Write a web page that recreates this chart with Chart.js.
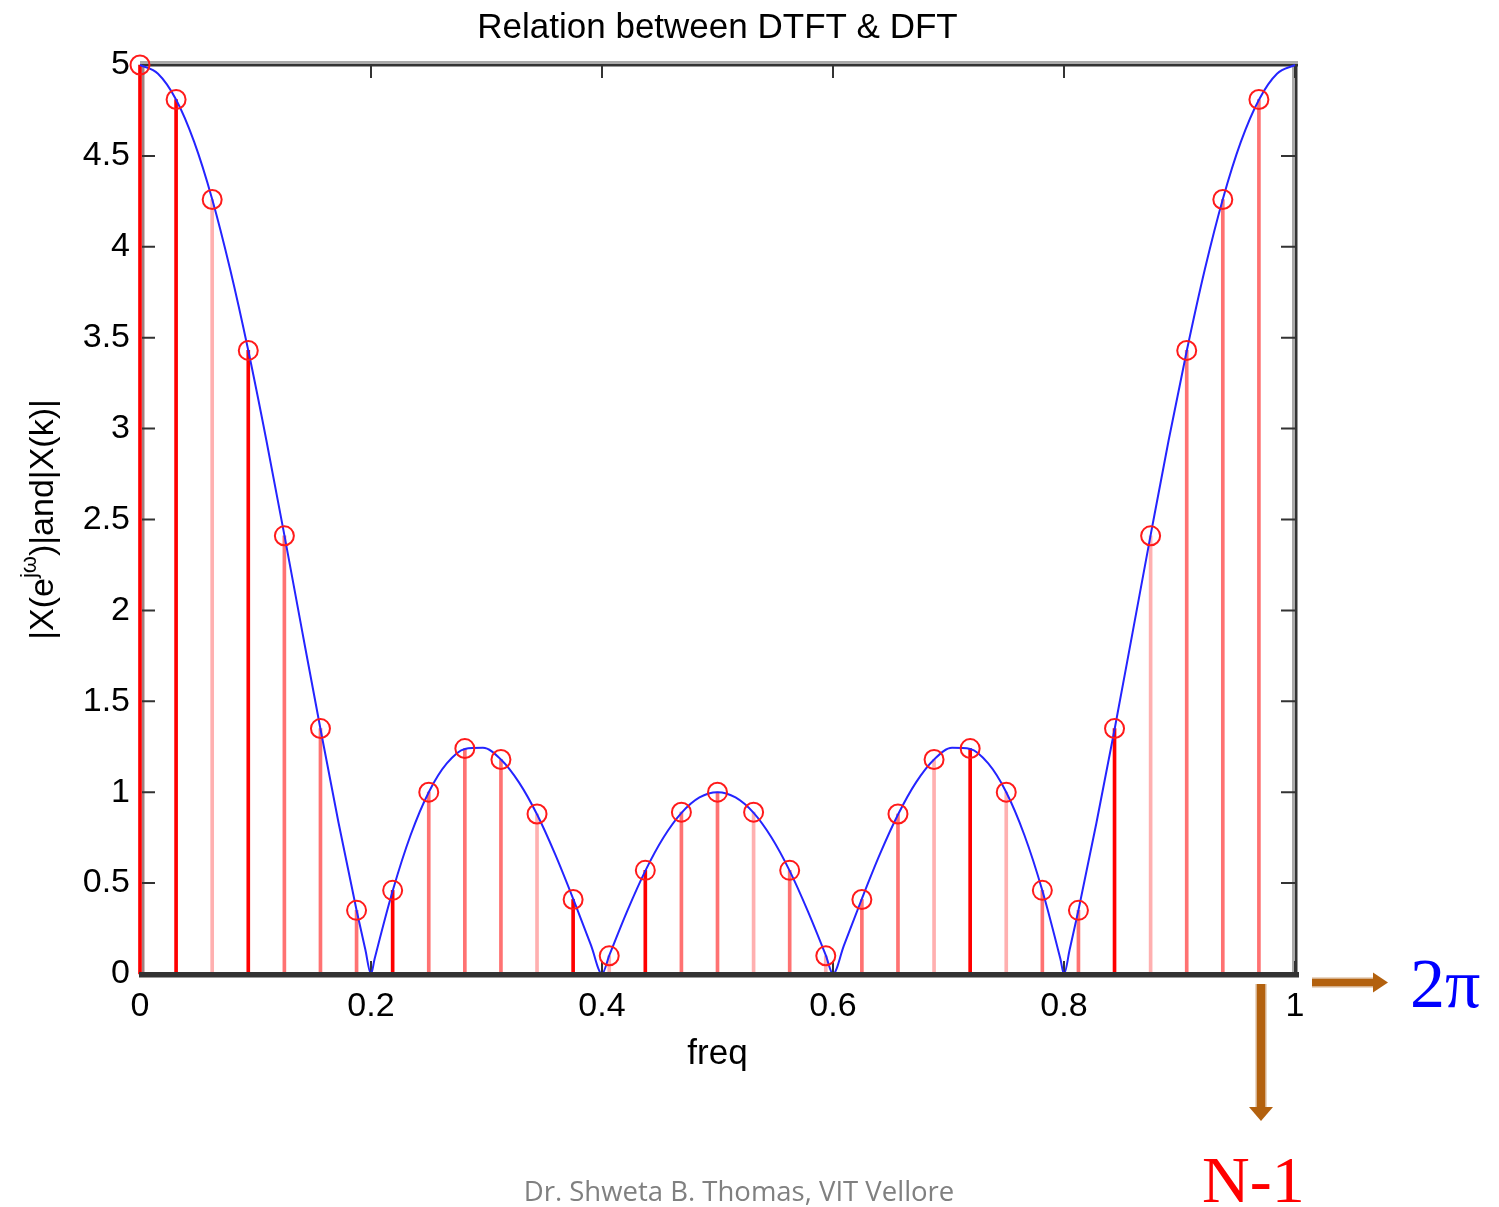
<!DOCTYPE html>
<html>
<head>
<meta charset="utf-8">
<title>Relation between DTFT & DFT</title>
<script src="https://cdn.jsdelivr.net/npm/chart.js@4.4.1/dist/chart.umd.min.js"></script>
<style>
  html, body { margin: 0; padding: 0; background: #fff; }
  #wrap { width: 1499px; height: 1207px; }
</style>
</head>
<body>
<div id="wrap"><canvas id="myChart" width="1499" height="1207"></canvas></div>
<script>
// DFT samples |X(k)|, k = 0..31
const dftFreq = [0, 0.03125, 0.0625, 0.09375, 0.125, 0.15625, 0.1875, 0.21875,
                 0.25, 0.28125, 0.3125, 0.34375, 0.375, 0.40625, 0.4375, 0.46875,
                 0.5, 0.53125, 0.5625, 0.59375, 0.625, 0.65625, 0.6875, 0.71875,
                 0.75, 0.78125, 0.8125, 0.84375, 0.875, 0.90625, 0.9375, 0.96875];
const dftMag = [5, 4.81, 4.26, 3.43, 2.41, 1.35, 0.35, 0.46,
                1.0, 1.24, 1.18, 0.88, 0.41, 0.10, 0.57, 0.89,
                1.0, 0.89, 0.57, 0.10, 0.41, 0.88, 1.18, 1.24,
                1.0, 0.46, 0.35, 1.35, 2.41, 3.43, 4.26, 4.81];

// DTFT magnitude |X(e^jw)| (blue curve)
const curveFreq = [0, 0.0156, 0.0313, 0.0469, 0.0625, 0.0781, 0.0938, 0.1094, 0.125, 0.1406,
                   0.1563, 0.1719, 0.1875, 0.195, 0.2, 0.2031, 0.2188, 0.2344, 0.25, 0.2656,
                   0.2813, 0.2969, 0.3125, 0.3281, 0.3438, 0.3594, 0.375, 0.3906, 0.4, 0.4063,
                   0.4219, 0.4375, 0.4531, 0.4688, 0.4844, 0.5,
                   0.5156, 0.5313, 0.5469, 0.5625, 0.5781, 0.5938, 0.6, 0.6094, 0.625, 0.6406,
                   0.6563, 0.6719, 0.6875, 0.7031, 0.7188, 0.7344, 0.75, 0.7656, 0.7813, 0.7969,
                   0.8, 0.805, 0.8125, 0.8281, 0.8438, 0.8594, 0.875, 0.8906, 0.9063, 0.9219,
                   0.9375, 0.9531, 0.9688, 0.9844, 1];
const curveMag = [5, 4.952, 4.809, 4.577, 4.262, 3.875, 3.428, 2.936, 2.414, 1.879,
                  1.346, 0.832, 0.351, 0.137, 0, 0.082, 0.458, 0.766, 1.0, 1.158,
                  1.238, 1.244, 1.180, 1.054, 0.877, 0.659, 0.414, 0.156, 0, 0.102,
                  0.347, 0.567, 0.749, 0.886, 0.971, 1.0,
                  0.971, 0.886, 0.749, 0.567, 0.347, 0.102, 0, 0.156, 0.414, 0.659,
                  0.877, 1.054, 1.180, 1.244, 1.238, 1.158, 1.0, 0.766, 0.458, 0.082,
                  0, 0.137, 0.351, 0.832, 1.346, 1.879, 2.414, 2.936, 3.428, 3.875,
                  4.262, 4.577, 4.809, 4.952, 5];

const xTicks = [0, 0.2, 0.4, 0.6, 0.8, 1];
const yTicks = [0, 0.5, 1, 1.5, 2, 2.5, 3, 3.5, 4, 4.5, 5];

// stem shading as it shows in the scanned figure (R = red, M = mid, L = light)
const stemShade = "RRLRMMMRMMMLRLRMMLMLMMLRLMMRLMMM";
const shadeColor = { R: "#ff0000", M: "#ff7272", L: "#ffb0b0" };

const SANS = "'Liberation Sans', Arial, sans-serif";
const SERIF = "'Liberation Serif', 'Times New Roman', serif";

function tickText(v) {
  return String(Math.round(v * 100) / 100);
}

function arrow(ctx, x1, y1, x2, y2, shaft, headLen, headHalf) {
  const ang = Math.atan2(y2 - y1, x2 - x1);
  const len = Math.hypot(x2 - x1, y2 - y1);
  ctx.save();
  ctx.translate(x1, y1);
  ctx.rotate(ang);
  ctx.fillStyle = "#d6b08a";
  ctx.fillRect(0, -shaft / 2 - 1.5, len - headLen + 2, shaft + 3);
  ctx.fillStyle = "#b3610e";
  ctx.fillRect(0, -shaft / 2, len - headLen + 2, shaft);
  ctx.beginPath();
  ctx.moveTo(len, 0);
  ctx.lineTo(len - headLen, -headHalf);
  ctx.lineTo(len - headLen, headHalf);
  ctx.closePath();
  ctx.fill();
  ctx.restore();
}

const matlabFrame = {
  id: "matlabFrame",
  beforeDatasetsDraw(chart) {
    const { ctx, chartArea: a, scales } = chart;
    ctx.save();
    // box
    ctx.fillStyle = "#aaaaaa";
    ctx.fillRect(a.left, a.top - 4, a.right - a.left + 3, 3);
    ctx.fillRect(a.right - 3, a.top, 3, a.bottom - a.top);
    ctx.fillStyle = "#333333";
    ctx.fillRect(a.left, a.top - 1, a.right - a.left + 3, 2.5);
    ctx.fillRect(a.right, a.top - 1, 2.5, a.bottom - a.top + 1);
    ctx.fillStyle = "#a08080";
    ctx.fillRect(a.left + 2, a.top, 2.5, a.bottom - a.top);
    // inward ticks
    ctx.strokeStyle = "#333333";
    ctx.lineWidth = 2;
    ctx.beginPath();
    yTicks.forEach(v => {
      const y = scales.y.getPixelForValue(v);
      ctx.moveTo(a.left + 2, y); ctx.lineTo(a.left + 15, y);
      ctx.moveTo(a.right, y); ctx.lineTo(a.right - 14, y);
    });
    xTicks.forEach(v => {
      const x = scales.x.getPixelForValue(v);
      ctx.moveTo(x, a.top); ctx.lineTo(x, a.top + 13);
      ctx.moveTo(x, a.bottom); ctx.lineTo(x, a.bottom - 13);
    });
    ctx.stroke();
    ctx.restore();
  },
  afterDatasetsDraw(chart) {
    const { ctx, chartArea: a } = chart;
    ctx.save();
    ctx.fillStyle = "#333333";
    ctx.fillRect(a.left - 1, a.bottom - 2, a.right - a.left + 5, 5.5);
    ctx.restore();
  },
  afterDraw(chart) {
    const { ctx, chartArea: a } = chart;
    const cx = (a.left + a.right) / 2;
    const cy = (a.top + a.bottom) / 2;
    ctx.save();
    ctx.fillStyle = "#000";
    ctx.textBaseline = "alphabetic";

    // title
    ctx.font = "35px " + SANS;
    ctx.textAlign = "center";
    ctx.fillText("Relation between DTFT & DFT", cx, 38);

    // x label
    ctx.fillText("freq", cx, 1064);

    // y label with superscript
    ctx.save();
    ctx.translate(53, cy);
    ctx.rotate(-Math.PI / 2);
    ctx.textAlign = "left";
    const partA = "|X(e", partSup = "j\u03c9", partB = ")|and|X(k)|";
    ctx.font = "34px " + SANS;
    const wA = ctx.measureText(partA).width;
    const wB = ctx.measureText(partB).width;
    ctx.font = "22px " + SANS;
    const wS = ctx.measureText(partSup).width;
    let x = -(wA + wS + wB) / 2;
    ctx.font = "34px " + SANS;
    ctx.fillText(partA, x, 0);
    x += wA;
    ctx.font = "22px " + SANS;
    ctx.fillText(partSup, x, -17);
    x += wS;
    ctx.font = "34px " + SANS;
    ctx.fillText(partB, x, 0);
    ctx.restore();

    // annotations
    arrow(ctx, 1312, 982.5, 1388, 982.5, 7, 15, 10);
    arrow(ctx, 1261, 984, 1261, 1121, 8, 14, 12);

    ctx.textAlign = "left";
    ctx.fillStyle = "#0000ff";
    ctx.font = "70px " + SERIF;
    ctx.fillText("2\u03c0", 1410, 1007);

    ctx.fillStyle = "#ff0000";
    ctx.font = "66px " + SERIF;
    ctx.fillText("N-1", 1202, 1202);

    ctx.fillStyle = "#808080";
    ctx.textAlign = "center";
    ctx.font = "27.5px 'Open Sans', sans-serif";
    ctx.fillText("Dr. Shweta B. Thomas, VIT Vellore", 739, 1201);
    ctx.restore();
  }
};

const ctx = document.getElementById("myChart").getContext("2d");

new Chart(ctx, {
  type: "scatter",
  data: {
    datasets: [
      {
        type: "bar",
        label: "X(k) stems",
        data: dftFreq.map((f, i) => ({ x: f, y: dftMag[i] })),
        backgroundColor: dftFreq.map((f, i) => shadeColor[stemShade[i]]),
        barThickness: 3,
        order: 3
      },
      {
        type: "line",
        label: "|X(e^jw)|",
        data: curveFreq.map((f, i) => ({ x: f, y: curveMag[i] })),
        borderColor: "#2424ff",
        borderWidth: 2,
        pointRadius: 0,
        showLine: true,
        fill: false,
        cubicInterpolationMode: "monotone",
        order: 2
      },
      {
        type: "scatter",
        label: "|X(k)|",
        data: dftFreq.map((f, i) => ({ x: f, y: dftMag[i] })),
        pointStyle: "circle",
        pointRadius: 9.5,
        borderColor: "#ff1a1a",
        backgroundColor: "rgba(0,0,0,0)",
        borderWidth: 2,
        order: 1
      }
    ]
  },
  options: {
    responsive: false,
    animation: false,
    devicePixelRatio: 1,
    clip: false,
    layout: { padding: { left: 0, top: 65, right: 204, bottom: 0 } },
    plugins: { legend: { display: false }, tooltip: { enabled: false } },
    scales: {
      x: {
        type: "linear",
        min: 0,
        max: 1,
        offset: false,
        grid: { display: false, drawTicks: false },
        border: { display: false },
        ticks: { stepSize: 0.2, padding: 12, color: "#000", font: { family: SANS, size: 34 },
                 callback: tickText },
        afterFit(scale) { scale.height = 233; }
      },
      y: {
        min: 0,
        max: 5,
        grid: { display: false, drawTicks: false },
        border: { display: false },
        ticks: { stepSize: 0.5, padding: 10, color: "#000", font: { family: SANS, size: 34 },
                 callback: tickText },
        afterFit(scale) { scale.width = 140; }
      }
    }
  },
  plugins: [matlabFrame]
});
</script>
</body>
</html>
